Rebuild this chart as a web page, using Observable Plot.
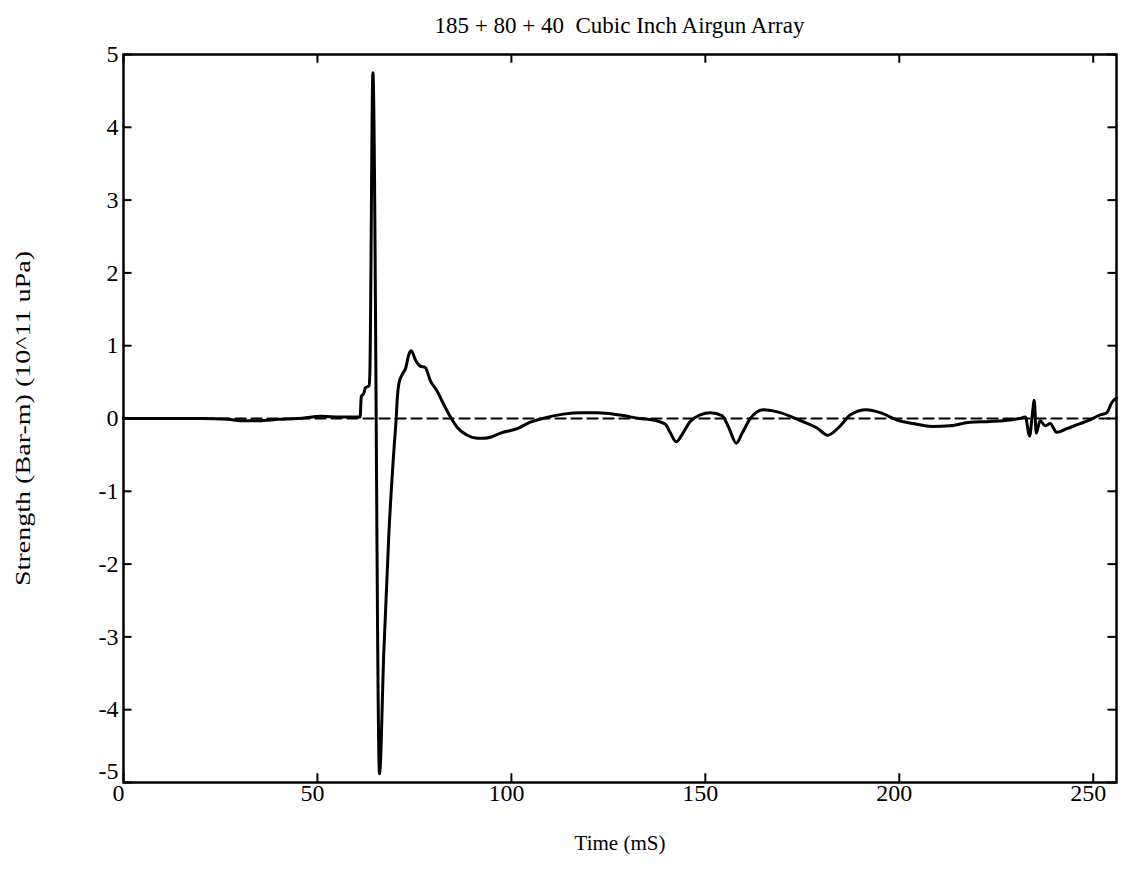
<!DOCTYPE html>
<html>
<head>
<meta charset="utf-8">
<script src="https://cdn.jsdelivr.net/npm/d3@7"></script>
<script src="https://cdn.jsdelivr.net/npm/@observablehq/plot@0.6"></script>
<style>
  body { margin: 0; background: #fff; }
  #title { height: 40px; box-sizing: border-box; padding: 14px 6px 0 123px; text-align: center;
           font-family: "Liberation Serif", serif; font-size: 23px; color: #000; line-height: 24px; white-space: pre; }
</style>
</head>
<body>
<div id="title"></div>
<div id="chart"></div>
<script>
const titleText = "185 + 80 + 40  Cubic Inch Airgun Array";
const xLabel = "Time (mS)";
const yLabel = "Strength (Bar-m) (10^11 uPa)";
const xTicks = [0, 50, 100, 150, 200, 250];
const yTicks = [-5, -4, -3, -2, -1, 0, 1, 2, 3, 4, 5];

const timeMs = [0, 10, 20, 27, 30, 35, 40, 45, 51, 56, 60, 61, 61.3, 62, 62.3, 63.3, 63.5, 64.3, 66.0,
  67.1, 68.4, 69.7, 70.3, 70.6, 71, 71.8, 72.8, 73.5, 74.2, 75.3, 76.5, 77.8, 79.1, 80.8, 82.5, 84.3, 86,
  88.6, 91.2, 93, 95, 97.2, 101.5, 104.9, 108, 113.4, 118, 122, 125, 128.9, 133, 136.6, 139.7, 141, 142.5,
  144, 146.1, 148.7, 151.3, 154.3, 156, 158, 159.5, 161.6, 165, 169.3, 174.5, 178.8, 181.5, 184.8, 187.4,
  191.5, 195.1, 199.4, 203.7, 208.4, 213.1, 218.3, 223.5, 228.6, 231, 232.5, 233.6, 234.2, 234.8, 235.3,
  236.3, 237.6, 238.9, 240.6, 243.2, 246.6, 248.7, 251.8, 253.5, 254.8, 256];
const strength = [0, 0, 0, -0.01, -0.03, -0.03, -0.01, 0.0, 0.03, 0.02, 0.02, 0.02, 0.3, 0.35, 0.42, 0.45, 0.6, 4.75, -4.88,
  -3.22, -1.6, -0.44, 0.0, 0.29, 0.48, 0.6, 0.7, 0.87, 0.93, 0.8, 0.72, 0.7, 0.52, 0.38, 0.2, 0.02, -0.12,
  -0.23, -0.27, -0.27, -0.25, -0.2, -0.14, -0.05, 0.0, 0.06, 0.08, 0.08, 0.07, 0.04, 0.0, -0.02, -0.08, -0.2, -0.32,
  -0.22, -0.04, 0.05, 0.08, 0.04, -0.12, -0.34, -0.2, 0.0, 0.12, 0.08, -0.03, -0.13, -0.23, -0.1, 0.05,
  0.12, 0.08, -0.02, -0.07, -0.11, -0.1, -0.05, -0.04, -0.02, 0.0, 0.02, -0.24, 0.0, 0.25, -0.2,
  -0.03, -0.1, -0.07, -0.19, -0.14, -0.07, -0.03, 0.05, 0.08, 0.22, 0.28];
const zeroLine = [{t: 0, v: 0}, {t: 256, v: 0}];

document.getElementById("title").textContent = titleText;

const data = timeMs.map((t, i) => ({t, v: strength[i]}));
const xDomain = [0, 256];
const yDomain = [-5, 5];
const tickLenX = 2.2;   // in ms
const tickLenY = 0.12;  // in strength units
const fmt = d => String(d);

const chart = Plot.plot({
  width: 1122,
  height: 844,
  marginTop: 14,
  marginBottom: 102,
  marginLeft: 123,
  marginRight: 6,
  style: {fontFamily: "Liberation Serif, serif", fontSize: "22px", color: "#000", background: "#fff"},
  x: {domain: xDomain},
  y: {domain: yDomain},
  marks: [
    Plot.axisX({ticks: xTicks, tickFormat: fmt, tickSize: 0, tickPadding: 1, dx: -5, label: null}),
    Plot.axisX({ticks: [], label: xLabel, labelAnchor: "center", labelArrow: "none", labelOffset: 67}),
    Plot.axisY({ticks: yTicks.filter(d => d !== -5), tickFormat: fmt, tickSize: 0, tickPadding: 5, label: null}),
    Plot.axisY({ticks: [-5], tickFormat: fmt, tickSize: 0, tickPadding: 5, dy: -11, label: null}),
    Plot.axisY({ticks: [], label: yLabel, labelAnchor: "center", labelArrow: "none", labelOffset: 108}),
    Plot.ruleX(xTicks, {x: d => d, y1: -5, y2: -5 + tickLenY, stroke: "#000", strokeWidth: 2}),
    Plot.ruleX(xTicks, {x: d => d, y1: 5, y2: 5 - tickLenY, stroke: "#000", strokeWidth: 2}),
    Plot.ruleY(yTicks, {y: d => d, x1: 0, x2: tickLenX, stroke: "#000", strokeWidth: 2}),
    Plot.ruleY(yTicks, {y: d => d, x1: 256, x2: 256 - tickLenX, stroke: "#000", strokeWidth: 2}),
    Plot.line(zeroLine, {x: "t", y: "v", stroke: "#000", strokeWidth: 2.2, strokeDasharray: "10,6"}),
    Plot.line(data, {x: "t", y: "v", stroke: "#000", strokeWidth: 3, strokeLinejoin: "round", curve: "monotone-x"}),
    Plot.frame({stroke: "#000", strokeWidth: 2.5})
  ]
});
chart.querySelectorAll('g[aria-label="x-axis tick label"] text, g[aria-label="y-axis tick label"] text').forEach(t => {
  t.style.fontSize = "24px";
});
chart.querySelectorAll('g[aria-label="x-axis label"] text').forEach(t => { t.style.fontSize = "21px"; });
chart.querySelectorAll('g[aria-label="y-axis label"] text').forEach(t => {
  t.style.fontSize = "21px";
  t.setAttribute("textLength", "335");
  t.setAttribute("lengthAdjust", "spacingAndGlyphs");
});
document.getElementById("chart").appendChild(chart);
</script>
</body>
</html>
